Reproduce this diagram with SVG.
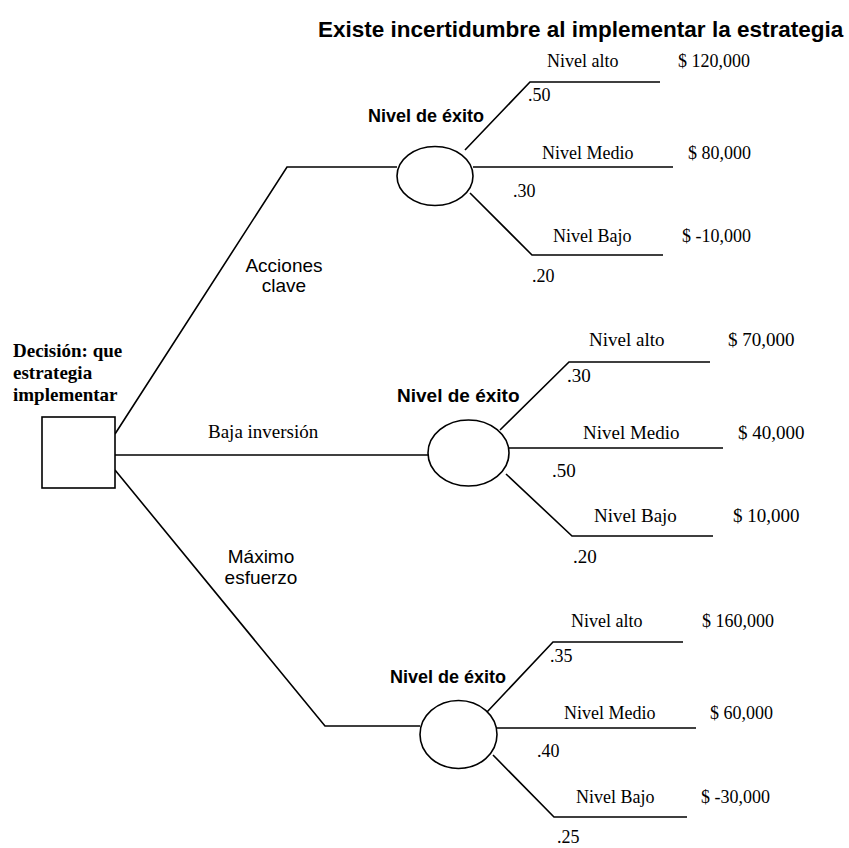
<svg xmlns="http://www.w3.org/2000/svg" width="849" height="848" viewBox="0 0 849 848">
<style>
.ln{fill:none;stroke:#000;stroke-width:1.6}
.nd{fill:#fff;stroke:#000;stroke-width:1.6}
.tm{font-family:"Liberation Serif","Times New Roman",serif;font-size:18px;fill:#000}
.tmb{font-family:"Liberation Serif","Times New Roman",serif;font-size:19px;font-weight:bold;fill:#000}
.ar{font-family:"Liberation Sans",Arial,sans-serif;font-size:19px;fill:#000;text-anchor:middle}
.arb{font-family:"Liberation Sans",Arial,sans-serif;font-size:18px;font-weight:bold;fill:#000}
</style>
<rect width="849" height="848" fill="#fff"/>
<text class="arb" x="318" y="37" style="font-size:22.5px">Existe incertidumbre al implementar la estrategia</text>
<g id="connectors">
<polyline class="ln" points="115,434 287,167 397,167"/>
<line class="ln" x1="115" y1="455" x2="428" y2="455"/>
<polyline class="ln" points="115,470 325,726 420,726"/>
<polyline class="ln" points="465,150 530,82 660,82"/>
<line class="ln" x1="473" y1="167" x2="673" y2="167"/>
<polyline class="ln" points="470,193 532,255 663,255"/>
<polyline class="ln" points="500,430 569,362 710,362"/>
<line class="ln" x1="509" y1="448" x2="723" y2="448"/>
<polyline class="ln" points="506,474 572,536 713,536"/>
<polyline class="ln" points="487,712 553,642 683,642"/>
<line class="ln" x1="497" y1="728" x2="696" y2="728"/>
<polyline class="ln" points="493,755 554,817 687,817"/>
<text class="ar" x="284" y="272">Acciones</text>
<text class="ar" x="284" y="292">clave</text>
<text class="tm" x="208" y="438" style="font-size:19px">Baja inversión</text>
<text class="ar" x="261" y="563">Máximo</text>
<text class="ar" x="261" y="584">esfuerzo</text>
</g>
<g id="decision">
<rect class="nd" x="42" y="417" width="73" height="71"/>
<text class="tmb" x="13" y="357">Decisión: que</text>
<text class="tmb" x="13" y="379">estrategia</text>
<text class="tmb" x="13" y="401">implementar</text>
</g>
<g id="chance1">
<ellipse class="nd" cx="435" cy="176" rx="38" ry="29.5"/>
<text class="arb" x="368" y="122">Nivel de éxito</text>
<text class="tm" x="547" y="67">Nivel alto</text>
<text class="tm" x="678" y="67">$ 120,000</text>
<text class="tm" x="528" y="101">.50</text>
<text class="tm" x="542" y="159">Nivel Medio</text>
<text class="tm" x="688" y="159">$ 80,000</text>
<text class="tm" x="513" y="197">.30</text>
<text class="tm" x="553" y="242">Nivel Bajo</text>
<text class="tm" x="682" y="242">$ -10,000</text>
<text class="tm" x="532" y="282">.20</text>
</g>
<g id="chance2">
<ellipse class="nd" cx="468.5" cy="453" rx="40.5" ry="33"/>
<text class="arb" x="397" y="402" style="font-size:19px">Nivel de éxito</text>
<text class="tm" x="589" y="346" style="font-size:19px">Nivel alto</text>
<text class="tm" x="728" y="346" style="font-size:19px">$ 70,000</text>
<text class="tm" x="567" y="382" style="font-size:19px">.30</text>
<text class="tm" x="583" y="439" style="font-size:19px">Nivel Medio</text>
<text class="tm" x="738" y="439" style="font-size:19px">$ 40,000</text>
<text class="tm" x="552" y="477" style="font-size:19px">.50</text>
<text class="tm" x="594" y="522" style="font-size:19px">Nivel Bajo</text>
<text class="tm" x="733" y="522" style="font-size:19px">$ 10,000</text>
<text class="tm" x="573" y="563" style="font-size:19px">.20</text>
</g>
<g id="chance3">
<ellipse class="nd" cx="458.5" cy="734.5" rx="38.5" ry="34"/>
<text class="arb" x="390" y="683">Nivel de éxito</text>
<text class="tm" x="571" y="627">Nivel alto</text>
<text class="tm" x="702" y="627">$ 160,000</text>
<text class="tm" x="550" y="662">.35</text>
<text class="tm" x="564" y="719">Nivel Medio</text>
<text class="tm" x="710" y="719">$ 60,000</text>
<text class="tm" x="537" y="757">.40</text>
<text class="tm" x="576" y="803">Nivel Bajo</text>
<text class="tm" x="701" y="803">$ -30,000</text>
<text class="tm" x="557" y="843">.25</text>
</g>
</svg>
